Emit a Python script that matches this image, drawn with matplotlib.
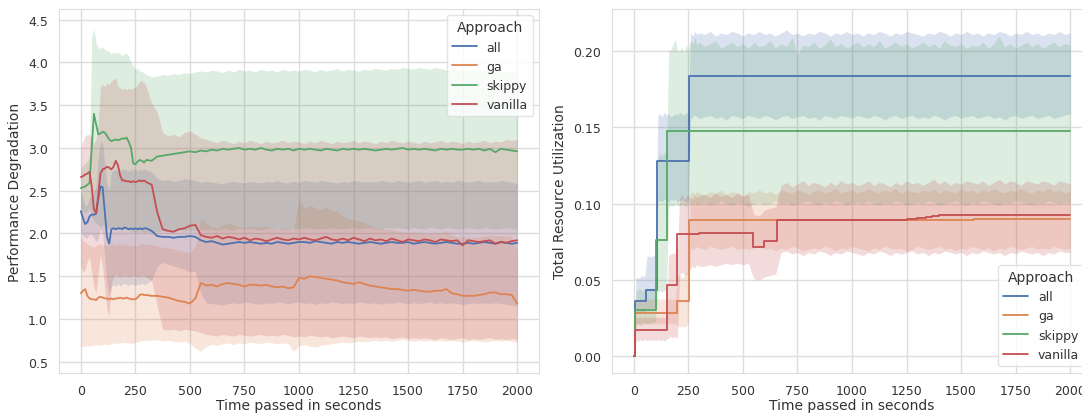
import numpy as np
import matplotlib
matplotlib.use("Agg")
import matplotlib.pyplot as plt
import seaborn as sns

# sampling times: every 10 s up to 300 s, then every 25 s
t = np.concatenate([np.arange(0, 301, 10), np.arange(325, 2001, 25)])

approaches = ["all", "ga", "skippy", "vanilla"]
palette = ["#4C72B0", "#DD8452", "#55A868", "#C44E52"]

# ---------------- performance degradation (mean, ci low, ci high) ----------------
all_pd = [2.26, 2.18, 2.11, 2.13, 2.20, 2.22, 2.22, 2.23, 2.40, 2.55,
          2.54, 2.25, 1.96, 1.88, 2.05, 2.06, 2.05, 2.06, 2.06, 2.05,
          2.07, 2.06, 2.05, 2.06, 2.05, 2.06, 2.05, 2.06, 2.05, 2.06,
          2.06, 2.03, 1.97, 1.96, 1.96, 1.95, 1.96, 1.96, 1.97, 1.96, 1.92,
          1.90, 1.91, 1.89, 1.87, 1.88, 1.89, 1.90, 1.89, 1.90, 1.89,
          1.88, 1.89, 1.88, 1.90, 1.89, 1.88, 1.89, 1.90, 1.90, 1.89,
          1.91, 1.90, 1.89, 1.88, 1.90, 1.89, 1.90, 1.89, 1.88, 1.89,
          1.90, 1.89, 1.88, 1.89, 1.90, 1.89, 1.89, 1.90, 1.88, 1.89,
          1.90, 1.89, 1.88, 1.89, 1.90, 1.89, 1.88, 1.88, 1.89, 1.88,
          1.89, 1.90, 1.89, 1.88, 1.90, 1.89, 1.88, 1.89]
all_pd_lo = [2.00, 1.98, 1.95, 1.95, 2.00, 1.98, 1.95, 1.90, 1.95, 2.05,
             2.00, 1.70, 1.40, 1.28, 1.38, 1.40, 1.38, 1.41, 1.39, 1.40,
             1.42, 1.40, 1.39, 1.41, 1.40, 1.39, 1.41, 1.40, 1.42, 1.40,
             1.41, 1.45, 1.62, 1.66, 1.64, 1.62, 1.60, 1.58, 1.55, 1.56, 1.30,
             1.19, 1.18, 1.17, 1.16, 1.18, 1.19, 1.18, 1.20, 1.19, 1.18,
             1.17, 1.19, 1.18, 1.20, 1.19, 1.18, 1.19, 1.20, 1.18, 1.19,
             1.17, 1.19, 1.18, 1.20, 1.19, 1.18, 1.19, 1.18, 1.20, 1.19,
             1.18, 1.19, 1.17, 1.19, 1.18, 1.20, 1.19, 1.18, 1.19, 1.18,
             1.19, 1.20, 1.18, 1.19, 1.18, 1.19, 1.18, 1.17, 1.18, 1.19,
             1.18, 1.19, 1.18, 1.19, 1.18, 1.17, 1.16, 1.15]
all_pd_hi = [2.48, 2.42, 2.32, 2.34, 2.42, 2.45, 2.48, 2.55, 2.90, 3.08,
             3.05, 2.80, 2.58, 2.50, 2.72, 2.74, 2.75, 2.73, 2.75, 2.74,
             2.76, 2.74, 2.73, 2.75, 2.74, 2.75, 2.73, 2.75, 2.74, 2.76,
             2.74, 2.72, 2.64, 2.62, 2.63, 2.61, 2.62, 2.64, 2.63, 2.62, 2.60,
             2.61, 2.60, 2.59, 2.58, 2.60, 2.61, 2.60, 2.59, 2.61, 2.60,
             2.59, 2.61, 2.60, 2.62, 2.60, 2.59, 2.61, 2.60, 2.62, 2.61,
             2.60, 2.62, 2.61, 2.60, 2.59, 2.61, 2.60, 2.62, 2.61, 2.60,
             2.61, 2.60, 2.62, 2.61, 2.60, 2.62, 2.61, 2.60, 2.61, 2.62,
             2.60, 2.61, 2.62, 2.60, 2.61, 2.60, 2.62, 2.61, 2.60, 2.61,
             2.62, 2.60, 2.61, 2.60, 2.62, 2.61, 2.60, 2.58]

ga_pd = [1.30, 1.33, 1.35, 1.27, 1.24, 1.23, 1.23, 1.22, 1.25, 1.26,
         1.25, 1.24, 1.24, 1.23, 1.24, 1.23, 1.24, 1.24, 1.25, 1.24,
         1.24, 1.25, 1.24, 1.23, 1.23, 1.23, 1.25, 1.28, 1.29, 1.28,
         1.28, 1.27, 1.27, 1.26, 1.25, 1.23, 1.21, 1.20, 1.18, 1.24, 1.42,
         1.39, 1.40, 1.38, 1.41, 1.42, 1.41, 1.40, 1.38, 1.40, 1.40,
         1.39, 1.40, 1.38, 1.37, 1.38, 1.36, 1.37, 1.48, 1.47, 1.50,
         1.49, 1.48, 1.47, 1.46, 1.45, 1.43, 1.42, 1.41, 1.43, 1.41,
         1.39, 1.38, 1.37, 1.36, 1.35, 1.35, 1.34, 1.33, 1.34, 1.33,
         1.32, 1.32, 1.33, 1.33, 1.35, 1.30, 1.29, 1.27, 1.27, 1.27,
         1.28, 1.29, 1.31, 1.31, 1.29, 1.29, 1.28, 1.18]
ga_pd_lo = [0.68, 0.68, 0.68, 0.69, 0.68, 0.69, 0.69, 0.70, 0.70, 0.69,
            0.70, 0.71, 0.70, 0.70, 0.71, 0.72, 0.72, 0.71, 0.72, 0.72,
            0.73, 0.72, 0.72, 0.71, 0.72, 0.73, 0.73, 0.74, 0.75, 0.74,
            0.75, 0.75, 0.76, 0.74, 0.75, 0.74, 0.73, 0.74, 0.71, 0.66, 0.62,
            0.68, 0.70, 0.69, 0.71, 0.72, 0.70, 0.72, 0.71, 0.73, 0.72,
            0.71, 0.73, 0.72, 0.71, 0.72, 0.71, 0.62, 0.69, 0.70, 0.68,
            0.67, 0.69, 0.70, 0.71, 0.72, 0.73, 0.72, 0.73, 0.74, 0.73,
            0.74, 0.75, 0.74, 0.75, 0.74, 0.75, 0.76, 0.75, 0.74, 0.75,
            0.74, 0.75, 0.74, 0.75, 0.74, 0.75, 0.74, 0.73, 0.74, 0.75,
            0.74, 0.73, 0.74, 0.75, 0.74, 0.75, 0.74, 0.73]
ga_pd_hi = [1.95, 1.92, 1.90, 1.88, 1.86, 1.85, 1.84, 1.86, 1.87, 1.88,
            1.86, 1.87, 1.85, 1.86, 1.88, 1.87, 1.86, 1.88, 1.87, 1.86,
            1.88, 1.87, 1.86, 1.85, 1.86, 1.85, 1.86, 1.88, 1.89, 1.88,
            1.87, 1.87, 1.85, 1.84, 1.83, 1.82, 1.80, 1.79, 1.77, 1.85, 2.18,
            2.12, 2.08, 2.06, 2.10, 2.12, 2.10, 2.08, 2.06, 2.09, 2.08,
            2.07, 2.09, 2.06, 2.05, 2.06, 2.04, 2.05, 2.40, 2.30, 2.33,
            2.30, 2.28, 2.31, 2.27, 2.26, 2.20, 2.18, 2.16, 2.15, 2.13,
            2.09, 2.07, 2.06, 2.05, 2.04, 2.03, 2.02, 2.01, 2.02, 2.01,
            2.00, 2.00, 2.01, 2.01, 2.03, 1.98, 1.96, 1.96, 1.95, 1.95,
            1.96, 1.97, 1.98, 1.98, 1.97, 1.97, 1.96, 1.80]

skippy_pd = [2.53, 2.54, 2.55, 2.57, 2.59, 3.00, 3.40, 3.28, 3.16, 3.17,
             3.19, 3.18, 3.14, 3.10, 3.08, 3.09, 3.10, 3.09, 3.10, 3.11,
             3.11, 3.12, 3.07, 3.00, 2.82, 2.81, 2.84, 2.86, 2.85, 2.83,
             2.86, 2.85, 2.90, 2.91, 2.92, 2.93, 2.94, 2.95, 2.96, 2.95, 2.97,
             2.96, 2.98, 2.97, 2.99, 2.98, 2.99, 3.00, 2.98, 2.99, 2.98,
             3.00, 2.98, 2.97, 2.99, 2.98, 2.99, 2.97, 2.99, 2.98, 2.99,
             2.98, 2.97, 2.99, 2.98, 2.97, 2.99, 2.98, 2.99, 2.98, 2.99,
             2.98, 2.97, 2.98, 2.99, 2.98, 2.99, 3.00, 2.98, 2.99, 2.98,
             2.99, 2.98, 2.97, 2.99, 2.98, 2.99, 2.98, 2.98, 2.99, 2.98,
             2.99, 2.97, 2.99, 2.95, 2.99, 2.98, 2.97, 2.96]
skippy_pd_lo = [2.28, 2.25, 2.24, 2.26, 2.30, 2.20, 2.15, 2.12, 2.10, 2.08,
                2.10, 2.09, 2.07, 2.06, 2.05, 2.06, 2.05, 2.04, 2.06, 2.05,
                2.06, 2.05, 2.04, 2.03, 2.02, 2.01, 2.02, 2.03, 2.02, 2.01,
                2.02, 2.01, 2.02, 2.03, 2.02, 2.03, 2.04, 2.03, 2.04, 2.03, 2.05,
                2.04, 2.05, 2.04, 2.06, 2.05, 2.04, 2.06, 2.05, 2.06, 2.05,
                2.04, 2.06, 2.05, 2.06, 2.05, 2.04, 2.06, 2.05, 2.07, 2.06,
                2.05, 2.06, 2.05, 2.07, 2.06, 2.05, 2.06, 2.07, 2.05, 2.06,
                2.07, 2.06, 2.05, 2.07, 2.06, 2.07, 2.06, 2.05, 2.07, 2.06,
                2.05, 2.07, 2.06, 2.05, 2.07, 2.06, 2.05, 2.06, 2.07, 2.06,
                2.05, 2.07, 2.06, 2.05, 2.06, 2.07, 2.06, 2.05]
skippy_pd_hi = [2.78, 2.80, 2.82, 2.85, 2.90, 4.30, 4.40, 4.22, 4.18, 4.16,
                4.18, 4.15, 4.14, 4.13, 4.10, 4.12, 4.10, 4.12, 4.10, 4.08,
                4.10, 4.11, 4.07, 4.00, 3.96, 3.92, 3.93, 3.90, 3.89, 3.88,
                3.86, 3.83, 3.84, 3.86, 3.85, 3.87, 3.86, 3.88, 3.87, 3.89, 3.90,
                3.89, 3.91, 3.90, 3.88, 3.91, 3.89, 3.92, 3.90, 3.91, 3.89,
                3.92, 3.90, 3.91, 3.89, 3.92, 3.90, 3.91, 3.90, 3.92, 3.91,
                3.89, 3.92, 3.90, 3.91, 3.93, 3.90, 3.92, 3.91, 3.90, 3.92,
                3.91, 3.93, 3.92, 3.91, 3.93, 3.92, 3.94, 3.93, 3.92, 3.94,
                3.93, 3.92, 3.94, 3.93, 3.91, 3.93, 3.92, 3.91, 3.92, 3.90,
                3.91, 3.92, 3.90, 3.91, 3.89, 3.90, 3.89, 3.88]

vanilla_pd = [2.66, 2.67, 2.69, 2.70, 2.72, 2.55, 2.28, 2.24, 2.45, 2.70,
              2.75, 2.76, 2.78, 2.77, 2.75, 2.78, 2.85, 2.80, 2.68, 2.62,
              2.62, 2.61, 2.61, 2.60, 2.61, 2.60, 2.61, 2.62, 2.61, 2.62,
              2.60, 2.57, 2.25, 2.05, 2.03, 2.02, 2.05, 2.06, 2.09, 2.10, 1.98,
              1.96, 1.95, 1.97, 1.94, 1.96, 1.95, 1.93, 1.95, 1.92, 1.94,
              1.93, 1.91, 1.93, 1.95, 1.93, 1.92, 1.94, 1.93, 1.95, 1.93,
              1.92, 1.94, 1.96, 1.93, 1.92, 1.94, 1.92, 1.95, 1.93, 1.91,
              1.94, 1.92, 1.93, 1.91, 1.94, 1.92, 1.90, 1.93, 1.92, 1.91,
              1.93, 1.92, 1.90, 1.93, 1.92, 1.91, 1.92, 1.86, 1.92, 1.91,
              1.90, 1.91, 1.92, 1.88, 1.90, 1.89, 1.91, 1.92]
vanilla_pd_lo = [1.62, 1.55, 1.58, 1.68, 1.72, 1.55, 1.38, 1.30, 1.55, 1.75,
                 1.60, 1.35, 1.10, 1.05, 1.42, 1.50, 1.52, 1.50, 1.49, 1.50,
                 1.51, 1.50, 1.49, 1.50, 1.51, 1.50, 1.49, 1.50, 1.51, 1.50,
                 1.49, 1.45, 1.15, 0.88, 0.87, 0.88, 0.86, 0.88, 0.87, 0.86, 0.84,
                 0.82, 0.81, 0.80, 0.82, 0.81, 0.80, 0.82, 0.81, 0.80, 0.81,
                 0.82, 0.80, 0.81, 0.80, 0.82, 0.81, 0.79, 0.80, 0.79, 0.81,
                 0.80, 0.79, 0.80, 0.78, 0.79, 0.80, 0.79, 0.78, 0.80, 0.79,
                 0.78, 0.79, 0.78, 0.79, 0.77, 0.78, 0.79, 0.77, 0.78, 0.77,
                 0.78, 0.77, 0.76, 0.78, 0.77, 0.76, 0.77, 0.78, 0.76, 0.77,
                 0.76, 0.77, 0.78, 0.76, 0.77, 0.76, 0.77, 0.76]
vanilla_pd_hi = [3.00, 3.08, 3.14, 3.16, 3.15, 3.12, 3.05, 3.10, 3.30, 3.72,
                 3.74, 3.72, 3.76, 3.74, 3.78, 3.80, 3.82, 3.72, 3.70, 3.69,
                 3.70, 3.68, 3.70, 3.69, 3.70, 3.71, 3.74, 3.78, 3.79, 3.76,
                 3.72, 3.52, 3.42, 3.18, 3.14, 3.16, 3.13, 3.18, 3.20, 3.16, 3.12,
                 3.10, 3.08, 3.06, 3.09, 3.07, 3.05, 3.08, 3.06, 3.09, 3.07,
                 3.05, 3.08, 3.06, 3.07, 3.09, 3.06, 3.08, 3.07, 3.05, 3.08,
                 3.06, 3.09, 3.07, 3.05, 3.08, 3.06, 3.07, 3.09, 3.06, 3.08,
                 3.07, 3.05, 3.08, 3.06, 3.09, 3.07, 3.06, 3.08, 3.07, 3.05,
                 3.08, 3.06, 3.07, 3.09, 3.06, 3.08, 3.07, 3.05, 3.08, 3.06,
                 3.07, 3.09, 3.06, 3.08, 3.07, 3.10, 3.09, 3.10]

# ---------------- total resource utilization ----------------
# mean lines change in steps: (time of change, new level)
all_ru_t = [0, 6, 55, 104, 255, 2000]
all_ru = [0.0, 0.036, 0.0435, 0.128, 0.1835, 0.1835]
ga_ru_t = [0, 6, 198, 254, 1560, 2000]
ga_ru = [0.0, 0.0285, 0.036, 0.0893, 0.0898, 0.0898]
skippy_ru_t = [0, 6, 102, 152, 300, 2000]
skippy_ru = [0.0, 0.030, 0.0765, 0.1475, 0.148, 0.148]
vanilla_ru_t = [0, 6, 150, 198, 300, 545, 598, 655, 1250, 1300, 1340, 1365, 1400, 2000]
vanilla_ru = [0.0, 0.0175, 0.0465, 0.080, 0.081, 0.0715, 0.0755, 0.0892,
              0.0897, 0.0905, 0.0912, 0.0918, 0.0928, 0.0928]

all_ru_lo = [0.000, 0.028, 0.028, 0.029, 0.029, 0.028, 0.031, 0.031, 0.032, 0.031,
             0.032, 0.101, 0.102, 0.101, 0.103, 0.102, 0.101, 0.103, 0.102, 0.103,
             0.101, 0.102, 0.103, 0.102, 0.101, 0.102, 0.156, 0.157, 0.158, 0.157,
             0.156, 0.157, 0.158, 0.156, 0.157, 0.155, 0.158, 0.157, 0.156, 0.158, 0.157,
             0.156, 0.158, 0.157, 0.155, 0.157, 0.158, 0.156, 0.157, 0.158, 0.156,
             0.157, 0.155, 0.158, 0.157, 0.156, 0.158, 0.157, 0.156, 0.158, 0.157,
             0.156, 0.158, 0.157, 0.155, 0.157, 0.158, 0.156, 0.157, 0.158, 0.156,
             0.157, 0.156, 0.158, 0.157, 0.155, 0.157, 0.158, 0.156, 0.157, 0.158,
             0.156, 0.157, 0.158, 0.156, 0.157, 0.155, 0.157, 0.158, 0.156, 0.157,
             0.158, 0.156, 0.157, 0.158, 0.156, 0.157, 0.158, 0.159]
all_ru_hi = [0.000, 0.052, 0.051, 0.052, 0.053, 0.052, 0.065, 0.066, 0.065, 0.066,
             0.066, 0.158, 0.159, 0.157, 0.160, 0.158, 0.159, 0.157, 0.158, 0.159,
             0.158, 0.160, 0.159, 0.158, 0.160, 0.159, 0.212, 0.210, 0.213, 0.211,
             0.212, 0.211, 0.213, 0.210, 0.212, 0.211, 0.213, 0.212, 0.210, 0.212, 0.211,
             0.213, 0.211, 0.212, 0.210, 0.212, 0.214, 0.211, 0.212, 0.210, 0.212,
             0.211, 0.213, 0.212, 0.210, 0.212, 0.211, 0.213, 0.211, 0.212, 0.210,
             0.212, 0.211, 0.213, 0.212, 0.210, 0.212, 0.211, 0.213, 0.212, 0.211,
             0.210, 0.212, 0.211, 0.213, 0.212, 0.210, 0.212, 0.211, 0.213, 0.211,
             0.212, 0.210, 0.212, 0.211, 0.213, 0.212, 0.210, 0.212, 0.211, 0.213,
             0.211, 0.212, 0.210, 0.212, 0.211, 0.213, 0.211, 0.212]

ga_ru_lo = [0.000, 0.020, 0.021, 0.020, 0.021, 0.022, 0.021, 0.022, 0.021, 0.022,
            0.021, 0.022, 0.021, 0.022, 0.021, 0.022, 0.021, 0.022, 0.021, 0.022,
            0.020, 0.019, 0.020, 0.019, 0.020, 0.021, 0.071, 0.070, 0.071, 0.072,
            0.071, 0.070, 0.072, 0.071, 0.070, 0.071, 0.072, 0.070, 0.071, 0.070, 0.071,
            0.072, 0.070, 0.071, 0.069, 0.071, 0.070, 0.072, 0.071, 0.069, 0.070,
            0.071, 0.070, 0.072, 0.071, 0.069, 0.071, 0.070, 0.072, 0.071, 0.070,
            0.069, 0.071, 0.070, 0.072, 0.071, 0.070, 0.071, 0.069, 0.070, 0.072,
            0.071, 0.070, 0.071, 0.072, 0.070, 0.071, 0.069, 0.071, 0.070, 0.072,
            0.071, 0.070, 0.071, 0.069, 0.071, 0.070, 0.072, 0.071, 0.070, 0.071,
            0.072, 0.070, 0.071, 0.070, 0.072, 0.071, 0.070, 0.071]
ga_ru_hi = [0.000, 0.037, 0.037, 0.038, 0.037, 0.038, 0.037, 0.038, 0.037, 0.038,
            0.037, 0.038, 0.037, 0.038, 0.037, 0.038, 0.037, 0.038, 0.037, 0.038,
            0.052, 0.054, 0.051, 0.053, 0.055, 0.052, 0.107, 0.108, 0.106, 0.109,
            0.107, 0.106, 0.108, 0.107, 0.109, 0.106, 0.108, 0.107, 0.105, 0.108, 0.107,
            0.109, 0.107, 0.108, 0.106, 0.109, 0.108, 0.107, 0.109, 0.108, 0.106,
            0.108, 0.109, 0.107, 0.108, 0.110, 0.107, 0.108, 0.109, 0.107, 0.108,
            0.110, 0.108, 0.107, 0.109, 0.108, 0.110, 0.107, 0.109, 0.108, 0.107,
            0.109, 0.108, 0.110, 0.107, 0.109, 0.108, 0.107, 0.110, 0.108, 0.109,
            0.107, 0.109, 0.108, 0.110, 0.108, 0.107, 0.109, 0.108, 0.110, 0.108,
            0.107, 0.109, 0.108, 0.110, 0.108, 0.109, 0.107, 0.108]

skippy_ru_lo = [0.000, 0.021, 0.022, 0.021, 0.022, 0.021, 0.022, 0.021, 0.022, 0.022,
                0.023, 0.042, 0.043, 0.042, 0.043, 0.044, 0.098, 0.099, 0.098, 0.100,
                0.099, 0.098, 0.100, 0.099, 0.098, 0.100, 0.099, 0.100, 0.101, 0.099,
                0.100, 0.101, 0.099, 0.100, 0.102, 0.100, 0.099, 0.101, 0.100, 0.098, 0.100,
                0.101, 0.099, 0.100, 0.102, 0.100, 0.101, 0.099, 0.100, 0.101, 0.102,
                0.100, 0.099, 0.101, 0.100, 0.102, 0.101, 0.099, 0.100, 0.101, 0.100,
                0.102, 0.100, 0.099, 0.101, 0.100, 0.102, 0.101, 0.099, 0.100, 0.101,
                0.100, 0.102, 0.101, 0.099, 0.100, 0.101, 0.102, 0.100, 0.099, 0.101,
                0.100, 0.102, 0.101, 0.100, 0.099, 0.101, 0.100, 0.102, 0.101, 0.100,
                0.099, 0.101, 0.100, 0.102, 0.101, 0.100, 0.101, 0.100]
skippy_ru_hi = [0.000, 0.043, 0.044, 0.044, 0.043, 0.044, 0.045, 0.044, 0.045, 0.044,
                0.045, 0.130, 0.133, 0.131, 0.134, 0.132, 0.200, 0.201, 0.205, 0.208,
                0.201, 0.200, 0.203, 0.199, 0.204, 0.201, 0.207, 0.205, 0.209, 0.204,
                0.206, 0.203, 0.205, 0.207, 0.202, 0.204, 0.206, 0.203, 0.205, 0.202, 0.206,
                0.203, 0.204, 0.207, 0.202, 0.205, 0.203, 0.209, 0.198, 0.204, 0.203,
                0.206, 0.202, 0.204, 0.208, 0.203, 0.205, 0.202, 0.204, 0.206, 0.203,
                0.205, 0.203, 0.207, 0.202, 0.204, 0.206, 0.203, 0.205, 0.202, 0.204,
                0.206, 0.203, 0.205, 0.202, 0.207, 0.204, 0.203, 0.205, 0.202, 0.204,
                0.203, 0.206, 0.202, 0.205, 0.210, 0.203, 0.205, 0.202, 0.204, 0.206,
                0.203, 0.205, 0.202, 0.204, 0.206, 0.203, 0.205, 0.204]

vanilla_ru_lo = [0.000, 0.010, 0.010, 0.011, 0.010, 0.011, 0.010, 0.011, 0.010, 0.011,
                 0.010, 0.011, 0.010, 0.011, 0.010, 0.011, 0.012, 0.013, 0.012, 0.013,
                 0.012, 0.054, 0.055, 0.054, 0.053, 0.055, 0.058, 0.059, 0.058, 0.060,
                 0.059, 0.059, 0.060, 0.059, 0.060, 0.061, 0.060, 0.061, 0.060, 0.061, 0.051,
                 0.050, 0.052, 0.053, 0.054, 0.068, 0.069, 0.067, 0.068, 0.066, 0.068,
                 0.067, 0.069, 0.068, 0.066, 0.068, 0.067, 0.069, 0.068, 0.067, 0.066,
                 0.068, 0.067, 0.069, 0.068, 0.066, 0.068, 0.067, 0.068, 0.069, 0.067,
                 0.068, 0.066, 0.068, 0.067, 0.069, 0.068, 0.067, 0.068, 0.066, 0.068,
                 0.067, 0.069, 0.068, 0.067, 0.068, 0.066, 0.068, 0.067, 0.069, 0.068,
                 0.067, 0.068, 0.066, 0.068, 0.067, 0.069, 0.068, 0.068]
vanilla_ru_hi = [0.000, 0.026, 0.025, 0.026, 0.025, 0.026, 0.025, 0.026, 0.025, 0.026,
                 0.025, 0.026, 0.025, 0.026, 0.025, 0.026, 0.066, 0.067, 0.068, 0.067,
                 0.068, 0.104, 0.106, 0.103, 0.105, 0.106, 0.104, 0.103, 0.106, 0.104,
                 0.105, 0.106, 0.104, 0.107, 0.105, 0.106, 0.104, 0.107, 0.105, 0.106, 0.093,
                 0.092, 0.096, 0.097, 0.098, 0.112, 0.114, 0.111, 0.113, 0.115, 0.112,
                 0.114, 0.113, 0.111, 0.114, 0.112, 0.115, 0.113, 0.114, 0.112, 0.113,
                 0.115, 0.112, 0.114, 0.113, 0.111, 0.114, 0.112, 0.115, 0.113, 0.114,
                 0.112, 0.114, 0.116, 0.113, 0.115, 0.112, 0.114, 0.113, 0.115, 0.114,
                 0.113, 0.115, 0.112, 0.114, 0.116, 0.113, 0.115, 0.114, 0.112, 0.115,
                 0.114, 0.113, 0.115, 0.114, 0.112, 0.115, 0.114, 0.113]


sns.set_style("whitegrid")
plt.rcParams["font.family"] = ["DejaVu Sans"]

text_color = "#333333"
light = "#dddddd"

fig = plt.figure(figsize=(10.82, 4.14), dpi=100)
# the right panel runs a little past the figure edge
ax1 = fig.add_axes([59 / 1082, 40 / 414, 480 / 1082, 364 / 414])
ax2 = fig.add_axes([612 / 1082, 40 / 414, 480 / 1082, 364 / 414])

pd_series = [(all_pd, all_pd_lo, all_pd_hi), (ga_pd, ga_pd_lo, ga_pd_hi),
             (skippy_pd, skippy_pd_lo, skippy_pd_hi),
             (vanilla_pd, vanilla_pd_lo, vanilla_pd_hi)]
for name, color, (m, lo, hi) in zip(approaches, palette, pd_series):
    ax1.plot(t, m, color=color, lw=1.3, label=name)
    ax1.fill_between(t, lo, hi, color=color, alpha=0.2, linewidth=0)

ru_lines = [(all_ru_t, all_ru), (ga_ru_t, ga_ru), (skippy_ru_t, skippy_ru),
            (vanilla_ru_t, vanilla_ru)]
ru_bands = [(all_ru_lo, all_ru_hi), (ga_ru_lo, ga_ru_hi),
            (skippy_ru_lo, skippy_ru_hi), (vanilla_ru_lo, vanilla_ru_hi)]
for name, color, (lt, lv), (lo, hi) in zip(approaches, palette, ru_lines, ru_bands):
    ax2.plot(lt, lv, color=color, lw=1.3, drawstyle="steps-post", label=name)
    ax2.fill_between(t, lo, hi, color=color, alpha=0.2, linewidth=0)

ax1.set_xlim(-100, 2100)
ax1.set_ylim(0.368, 4.625)
ax1.set_yticks(np.arange(0.5, 4.51, 0.5))
ax2.set_xlim(-100, 2100)
ax2.set_ylim(-0.011, 0.2277)
ax2.set_yticks([0.0, 0.05, 0.10, 0.15, 0.20])
ax2.yaxis.set_major_formatter(matplotlib.ticker.FormatStrFormatter("%.2f"))

for ax, ylab in [(ax1, "Performance Degradation"), (ax2, "Total Resource Utilization")]:
    ax.set_xticks(np.arange(0, 2001, 250))
    ax.tick_params(labelsize=9, colors=text_color, pad=8, length=0)
    ax.set_xlabel("Time passed in seconds", fontsize=10, color=text_color, labelpad=1)
    ax.set_ylabel(ylab, fontsize=10, color=text_color, labelpad=4)
    ax.grid(True, color=light, lw=1)
    for s in ax.spines.values():
        s.set_color(light)

leg1 = ax1.legend(title="Approach", loc="upper right", fontsize=9, title_fontsize=10,
                  handlelength=2.0, framealpha=0.8, edgecolor=light)
leg2 = ax2.legend(title="Approach", loc="lower left", fontsize=9, title_fontsize=10,
                  handlelength=2.0, framealpha=0.8, edgecolor=light,
                  bbox_to_anchor=(998 / 1082, 47 / 414), bbox_transform=fig.transFigure,
                  borderaxespad=0)
for leg in (leg1, leg2):
    for txt in leg.get_texts():
        txt.set_color(text_color)
    leg.get_title().set_color(text_color)

fig.savefig("out.png", dpi=100)
